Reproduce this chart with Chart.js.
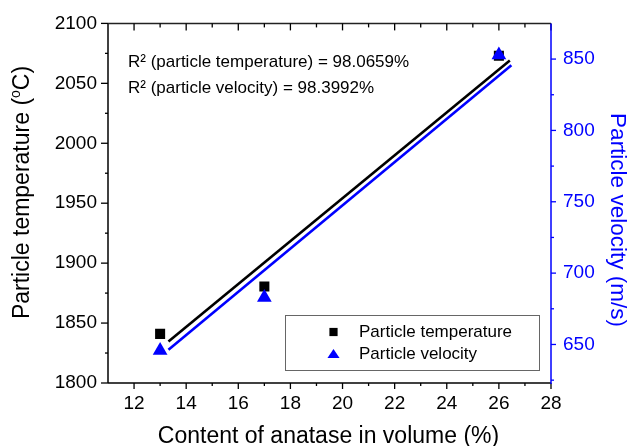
<!DOCTYPE html>
<html><head><meta charset="utf-8">
<script src="https://cdn.jsdelivr.net/npm/chart.js@4.4.1/dist/chart.umd.min.js"></script>
<style>html,body{margin:0;padding:0;background:#fff;} #wrap{width:629px;height:446px;}</style>
</head><body><div id="wrap"><canvas id="c" width="629" height="446"></canvas></div>
<script>
const anatase = [13, 17, 26];
const temperature = [1841, 1880.5, 2073];
const velocity = [645.7, 683, 852.9];
const tempFitX = [13.32, 26.42];
const tempFitY = [1834.6, 2069];
const velFitX = [13.32, 26.48];
const velFitY = [646.3, 845.6];
const xMajorTicks = [12, 14, 16, 18, 20, 22, 24, 26, 28];
const xMinorTicks = [13, 15, 17, 19, 21, 23, 25, 27];
const tempTicks = [1800, 1850, 1900, 1950, 2000, 2050, 2100];
const tempMinorTicks = [1825, 1875, 1925, 1975, 2025, 2075];
const velTicks = [650, 700, 750, 800, 850];
const velMinorTicks = [625, 675, 725, 775, 825];
const xTitle = 'Content of anatase in volume (%)';
const yTitleParts = ['Particle temperature (', 'o', 'C)'];
const y2Title = 'Particle velocity (m/s)';
const seriesLabels = ['Particle temperature', 'Particle velocity'];
const r2Lines = ['R² (particle temperature) = 98.0659%', 'R² (particle velocity) = 98.3992%'];

const FONT = '"Liberation Sans", Arial, sans-serif';
const BLUE = '#0000ff';
Chart.defaults.font.family = FONT;

function pts(xs, ys) { return xs.map((x, i) => ({ x: x, y: ys[i] })); }
const plain = v => String(v);

const framePlugin = {
  id: 'frame',
  afterDraw(chart) {
    const ctx = chart.ctx, ca = chart.chartArea;
    const sx = chart.scales.x, sy = chart.scales.y, sy2 = chart.scales.y2;
    function ln(x1, y1, x2, y2) { ctx.beginPath(); ctx.moveTo(x1, y1); ctx.lineTo(x2, y2); ctx.stroke(); }
    ctx.save();
    ctx.lineWidth = 1.5;
    ctx.strokeStyle = '#000';
    ln(ca.left, ca.top, ca.left, ca.bottom);
    ln(ca.left, ca.bottom, ca.right, ca.bottom);
    ctx.strokeStyle = '#222';
    ln(ca.left, ca.top, ca.right, ca.top);
    ctx.strokeStyle = '#000';
    ctx.lineWidth = 1.3;
    xMajorTicks.forEach(v => { const p = sx.getPixelForValue(v); ln(p, ca.bottom, p, ca.bottom + 6); ln(p, ca.top, p, ca.top + 7); });
    xMinorTicks.forEach(v => { const p = sx.getPixelForValue(v); ln(p, ca.bottom, p, ca.bottom + 3); ln(p, ca.top, p, ca.top + 4); });
    tempTicks.forEach(v => { const p = sy.getPixelForValue(v); ln(ca.left - 7, p, ca.left, p); });
    tempMinorTicks.forEach(v => { const p = sy.getPixelForValue(v); ln(ca.left - 3, p, ca.left, p); });
    ctx.strokeStyle = BLUE;
    ctx.lineWidth = 1.5;
    ln(ca.right, ca.top, ca.right, ca.bottom + 1);
    ctx.lineWidth = 1.3;
    velTicks.forEach(v => { const p = sy2.getPixelForValue(v); ln(ca.right, p, ca.right + 5, p); });
    velMinorTicks.forEach(v => { const p = sy2.getPixelForValue(v); ln(ca.right, p, ca.right + 3, p); });

    // axis titles
    ctx.fillStyle = '#000';
    ctx.font = '23px ' + FONT;
    ctx.textAlign = 'center';
    ctx.textBaseline = 'alphabetic';
    ctx.fillText(xTitle, (ca.left + ca.right) / 2 - 1, 443);

    // left title with superscript o
    ctx.save();
    ctx.translate(29, 192.5);
    ctx.rotate(-Math.PI / 2);
    const bigF = '23px ' + FONT, smallF = '14px ' + FONT;
    ctx.font = bigF; const w0 = ctx.measureText(yTitleParts[0]).width; const w2 = ctx.measureText(yTitleParts[2]).width;
    ctx.font = smallF; const w1 = ctx.measureText(yTitleParts[1]).width;
    const total = w0 + w1 + w2;
    ctx.textAlign = 'left';
    let cx = -total / 2;
    ctx.font = bigF; ctx.fillText(yTitleParts[0], cx, 0); cx += w0;
    ctx.font = smallF; ctx.fillText(yTitleParts[1], cx, -9); cx += w1;
    ctx.font = bigF; ctx.fillText(yTitleParts[2], cx, 0);
    ctx.restore();

    ctx.save();
    ctx.fillStyle = BLUE;
    ctx.font = '22.5px ' + FONT;
    ctx.textAlign = 'center';
    ctx.translate(611, 220);
    ctx.rotate(Math.PI / 2);
    ctx.fillText(y2Title, 0, 0);
    ctx.restore();

    // R^2 annotation
    ctx.font = '17px ' + FONT;
    ctx.textAlign = 'left';
    ctx.fillText(r2Lines[0], 128, 66.5);
    ctx.fillText(r2Lines[1], 128, 92.5);

    // legend
    ctx.lineWidth = 1;
    ctx.strokeStyle = '#666';
    ctx.strokeRect(285.5, 315.5, 254, 55);
    ctx.fillStyle = '#000';
    Chart.helpers.drawPoint(ctx, { pointStyle: 'rect', radius: 5.8, rotation: 0, borderWidth: 0 }, 333.5, 332);
    ctx.fillStyle = BLUE;
    Chart.helpers.drawPointLegend(ctx, { pointStyle: 'triangle', radius: 6, rotation: 0, borderWidth: 0 }, 333.5, 355, 14);
    ctx.fillStyle = '#000';
    ctx.font = '17px ' + FONT;
    ctx.fillText(seriesLabels[0], 359, 337);
    ctx.fillText(seriesLabels[1], 359, 358.5);
    ctx.restore();
  }
};

new Chart(document.getElementById('c'), {
  type: 'scatter',
  data: {
    datasets: [
      { label: seriesLabels[1], data: pts(anatase, velocity), yAxisID: 'y2', pointStyle: 'triangle', pointRadius: 8.5, backgroundColor: BLUE, borderColor: BLUE, borderWidth: 0, order: 0 },
      { label: seriesLabels[0], data: pts(anatase, temperature), yAxisID: 'y', pointStyle: 'rect', pointRadius: 7.1, backgroundColor: '#000', borderColor: '#000', borderWidth: 0, order: 1 },
      { label: 'fit T', data: pts(tempFitX, tempFitY), yAxisID: 'y', showLine: true, pointRadius: 0, borderColor: '#000', borderWidth: 2.6, order: 2 },
      { label: 'fit V', data: pts(velFitX, velFitY), yAxisID: 'y2', showLine: true, pointRadius: 0, borderColor: BLUE, borderWidth: 2.6, order: 3 }
    ]
  },
  options: {
    responsive: false,
    animation: false,
    devicePixelRatio: 1,
    layout: { padding: { top: 22, left: 0, right: 0, bottom: 0 } },
    plugins: { legend: { display: false }, tooltip: { enabled: false } },
    scales: {
      x: {
        type: 'linear', position: 'bottom', min: 11, max: 28,
        afterBuildTicks: s => { s.ticks = xMajorTicks.map(v => ({ value: v })); },
        afterFit: s => { s.height = 63; },
        ticks: { font: { size: 19 }, color: '#000', padding: 9, maxRotation: 0, autoSkip: false, callback: plain },
        grid: { display: false, drawTicks: false },
        border: { display: false }
      },
      y: {
        type: 'linear', position: 'left', min: 1800, max: 2100,
        afterBuildTicks: s => { s.ticks = tempTicks.map(v => ({ value: v })); },
        afterFit: s => { s.width = 108; },
        ticks: { font: { size: 19 }, color: '#000', padding: 11, autoSkip: false, callback: plain },
        grid: { display: false, drawTicks: false },
        border: { display: false }
      },
      y2: {
        type: 'linear', position: 'right', min: 623, max: 875,
        afterBuildTicks: s => { s.ticks = velTicks.map(v => ({ value: v })); },
        afterFit: s => { s.width = 78; },
        ticks: { font: { size: 19 }, color: BLUE, padding: 12, autoSkip: false, callback: plain },
        grid: { display: false, drawTicks: false },
        border: { display: false }
      }
    }
  },
  plugins: [framePlugin]
});
</script>
</body></html>
